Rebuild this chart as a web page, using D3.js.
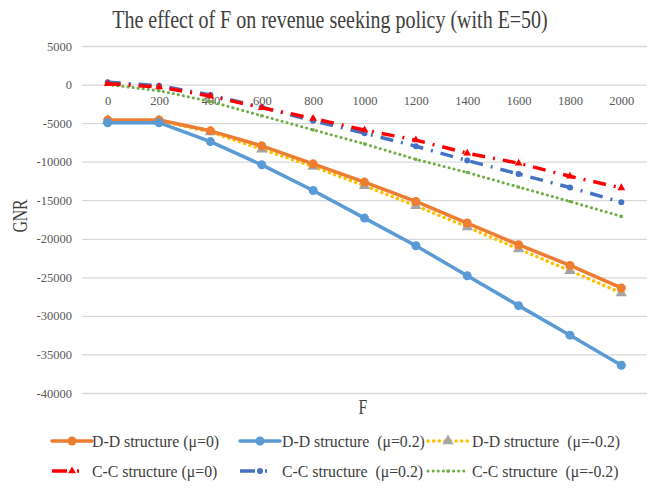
<!DOCTYPE html>
<html><head><meta charset="utf-8">
<script src="https://cdn.jsdelivr.net/npm/d3@7"></script>
<style>
body{margin:0;background:#fff;}
svg text{font-family:"Liberation Serif","Times New Roman",serif !important;}
</style></head>
<body><svg id="c" width="649" height="488"></svg>
<script>
const categories = [0,200,400,600,800,1000,1200,1400,1600,1800,2000];
const yTicks = [5000,0,-5000,-10000,-15000,-20000,-25000,-30000,-35000,-40000];
const ddMu0   = [-4600,-4600,-6000,-7950,-10280,-12650,-15160,-17960,-20770,-23450,-26380];
const ddMu02  = [-4950,-4950,-7400,-10410,-13740,-17320,-20900,-24790,-28670,-32500,-36400];
const ddMuN02 = [-4700,-4700,-6150,-8380,-10630,-13130,-15720,-18480,-21330,-24140,-27030];
const ccMu0   = [100,-300,-1500,-3000,-4400,-5900,-7200,-8900,-10200,-11900,-13400];
const ccMu02  = [300,-150,-1350,-2950,-4700,-6300,-8000,-9850,-11600,-13350,-15250];
const ccMuN02 = [0,-800,-2200,-4050,-5880,-7700,-9700,-11400,-13300,-15160,-17100];
const seriesNames = ["D-D structure (μ=0)","D-D structure  (μ=0.2)","D-D structure  (μ=-0.2)",
  "C-C structure (μ=0)","C-C structure  (μ=0.2)","C-C structure  (μ=-0.2)"];

const series = [
  {name:seriesNames[0], values:ddMu0, color:"#ED7D31", w:3.5, dash:null, cap:"round", marker:"circle", mcolor:"#ED7D31", msize:4.5},
  {name:seriesNames[1], values:ddMu02, color:"#5B9BD5", w:3.5, dash:null, cap:"round", marker:"circle", mcolor:"#5B9BD5", msize:4.5},
  {name:seriesNames[2], values:ddMuN02, color:"#FFC000", w:3.5, dash:"0.1,5.5", cap:"round", marker:"triangle", mcolor:"#A5A5A5", msize:5},
  {name:seriesNames[3], values:ccMu0, color:"#FF0000", w:3.5, dash:"13,8,2,8", cap:"butt", marker:"triangle", mcolor:"#FF0000", msize:3.5},
  {name:seriesNames[4], values:ccMu02, color:"#4472C4", w:3.5, dash:"13,8,2,8", cap:"butt", marker:"circle", mcolor:"#4472C4", msize:3},
  {name:seriesNames[5], values:ccMuN02, color:"#70AD47", w:3, dash:"0.1,5", cap:"round", marker:"square", mcolor:"#70AD47", msize:1.5}
];
const svg = d3.select("#c");
const L=82, R=647, T=46, B=393;
const x = d3.scalePoint().domain(categories).range([L,R]).padding(0.5);
const y = d3.scaleLinear().domain([-40000,5000]).range([B,T]);

function label(tx,ty,txt,size,sx,rot,anchor){
  return svg.append("text")
    .attr("transform",`translate(${tx},${ty})${rot?` rotate(${rot})`:""} scale(${sx},1)`)
    .attr("text-anchor",anchor||"middle").attr("font-size",size).attr("fill","#404040")
    .attr("xml:space","preserve").style("white-space","pre").text(txt);
}

label(330,28,"The effect of F on revenue seeking policy (with E=50)",25,0.8);

// grid + y ticks
const yAxis = d3.axisLeft(y).tickValues(yTicks).tickSize(-(R-L)).tickFormat(d=>d);
const gy = svg.append("g").attr("transform",`translate(${L},0)`).call(yAxis);
gy.attr("font-family",null);
gy.select(".domain").remove();
gy.selectAll("line").attr("stroke","#D9D9D9").attr("stroke-width",1.3);
gy.selectAll("text").attr("font-size",12.5).attr("fill","#595959").attr("x",-10);

// x tick labels next to the zero line
const xAxis = d3.axisBottom(x).tickSize(0).tickPadding(12);
const gx = svg.append("g").attr("transform",`translate(0,${y(0)})`).call(xAxis);
gx.attr("font-family",null);
gx.select(".domain").remove();
gx.selectAll("text").attr("font-size",12.5).attr("fill","#595959");

label(27,216,"GNR",21,0.75,-90);
label(363,414,"F",21,0.75);

function drawMarker(g, type, cx, cy, s, color){
  if(type==="circle") g.append("circle").attr("cx",cx).attr("cy",cy).attr("r",s).attr("fill",color);
  else if(type==="triangle") g.append("path").attr("d",d3.symbol(d3.symbolTriangle, s*s*2.2)()).attr("transform",`translate(${cx},${cy})`).attr("fill",color);
  else g.append("rect").attr("x",cx-s).attr("y",cy-s).attr("width",2*s).attr("height",2*s).attr("fill",color);
}

const line = d3.line().x((d,i)=>x(categories[i])).y(d=>y(d));
const order = [5,4,3,2,0,1];
order.forEach(k=>{
  const s = series[k];
  const g = svg.append("g");
  const p = g.append("path").attr("d",line(s.values)).attr("fill","none")
    .attr("stroke",s.color).attr("stroke-width",s.w).attr("stroke-linecap",s.cap).attr("stroke-linejoin","round");
  if(s.dash) p.attr("stroke-dasharray",s.dash);
  s.values.forEach((v,i)=>drawMarker(g,s.marker,x(categories[i]),y(v),s.msize,s.mcolor));
});

// legend
const legPos = [[52,441],[240,441],[428,441],[52,471],[240,471],[428,471]];
const legText = [92,282,472,92,282,472];
series.forEach((s,k)=>{
  const [lx,ly]=legPos[k];
  const g = svg.append("g");
  const cc = (k===3||k===4);
  const len = cc?28:40;
  const p = g.append("line").attr("x1",lx).attr("x2",lx+len).attr("y1",ly).attr("y2",ly)
    .attr("stroke",s.color).attr("stroke-width",s.w).attr("stroke-linecap",s.cap);
  if(cc) p.attr("stroke-dasharray","15,10,2,10");
  else if(s.dash) p.attr("stroke-dasharray",s.dash);
  drawMarker(g,s.marker,lx+20,ly,s.msize,s.mcolor);
  label(legText[k],ly+5.5,s.name,17,0.93,0,"start");
});
</script></body></html>
